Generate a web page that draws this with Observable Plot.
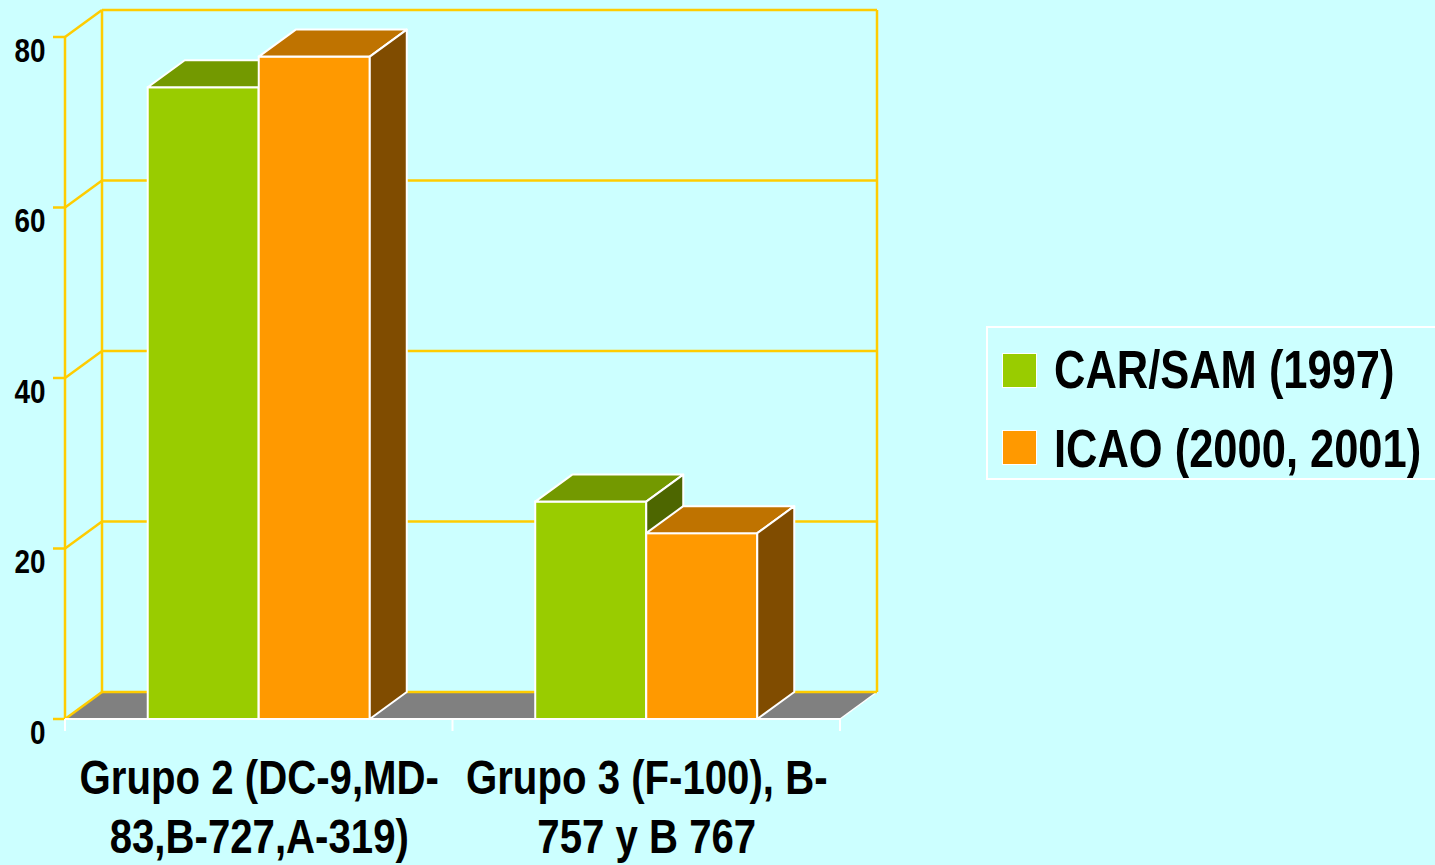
<!DOCTYPE html>
<html><head><meta charset="utf-8">
<script src="https://cdn.jsdelivr.net/npm/d3@7"></script>
<script src="https://cdn.jsdelivr.net/npm/@observablehq/plot@0.6"></script>
<style>
html,body{margin:0;padding:0;background:#CCFFFF;}
#wrap{position:relative;width:1435px;height:865px;overflow:hidden;background:#CCFFFF;}
#legend{position:absolute;left:986px;top:326px;width:470px;height:154px;border:2px solid #fff;box-sizing:border-box;}
.sw{position:absolute;width:33px;height:33px;border:1.5px solid #fff;box-sizing:content-box;}
.lt{position:absolute;font-family:"Liberation Sans Narrow","Arial Narrow","Liberation Sans",Arial,sans-serif;font-weight:bold;font-size:53px;line-height:1;color:#000;white-space:nowrap;transform:scaleX(0.82);transform-origin:0 0;}
</style></head>
<body><div id="wrap"></div>
<script>
const categories = ["Grupo 2 (DC-9,MD-\n83,B-727,A-319)", "Grupo 3 (F-100), B-\n757 y B 767"];
const seriesNames = ["CAR/SAM (1997)", "ICAO (2000, 2001)"];
const carSam = [74.1, 25.5];
const icao = [77.7, 21.8];
const yTicks = [0, 20, 40, 60, 80];

const FONT = '"Liberation Sans","Arial",sans-serif';
const NARROW = 0.82;
const FRONT = ["#99CC00", "#FF9900"];
const TOP = ["#739900", "#BF7300"];
const SIDE = ["#4D6600", "#804C00"];
const GRID = "#FFCC00";
const DX = 37, DY = -27;
const BAR_W = 0.2865;

const rows = categories.flatMap((c, i) => [
  {cat: c, i, s: 0, value: carSam[i]},
  {cat: c, i, s: 1, value: icao[i]}
]);
const bx1 = d => d.i + 0.5 - (d.s === 0 ? BAR_W : 0);
const bx2 = d => bx1(d) + BAR_W;

function floorMark(index, {x, y}) {
  const g = d3.create("svg:g");
  const x0 = x(0), x1 = x(categories.length), yb = y(0);
  g.append("path").attr("fill", "#808080")
    .attr("d", `M${x0},${yb}L${x1},${yb}L${x1 + DX},${yb + DY}L${x0 + DX},${yb + DY}Z`);
  g.append("line").attr("stroke", "#fff").attr("stroke-width", 1.5)
    .attr("x1", x1).attr("y1", yb).attr("x2", x1 + DX).attr("y2", yb + DY);
  return g.node();
}

function wallsMark(index, {x, y}) {
  const g = d3.create("svg:g").attr("fill", "none").attr("stroke", GRID).attr("stroke-width", 2.5);
  const x0 = x(0), x1 = x(categories.length);
  const yb = y(0), yt = y(yTicks[yTicks.length - 1]);
  for (const t of yTicks) {
    g.append("line").attr("x1", x0 + DX).attr("x2", x1 + DX).attr("y1", y(t) + DY).attr("y2", y(t) + DY);
    g.append("line").attr("x1", x0).attr("x2", x0 + DX).attr("y1", y(t)).attr("y2", y(t) + DY);
    g.append("line").attr("x1", x0 - 12).attr("x2", x0).attr("y1", y(t)).attr("y2", y(t));
  }
  g.append("line").attr("x1", x0 + DX).attr("x2", x0 + DX).attr("y1", yb + DY).attr("y2", yt + DY);
  g.append("line").attr("x1", x1 + DX).attr("x2", x1 + DX).attr("y1", yb + DY).attr("y2", yt + DY);
  g.append("line").attr("x1", x0).attr("x2", x0).attr("y1", yb).attr("y2", yt);
  return g.node();
}

function xAxisMark(index, {x, y}) {
  const g = d3.create("svg:g").attr("stroke", "#fff").attr("stroke-width", 2);
  const yb = y(0);
  g.append("line").attr("x1", x(0)).attr("x2", x(categories.length)).attr("y1", yb).attr("y2", yb);
  for (let i = 0; i <= categories.length; i++) {
    g.append("line").attr("x1", x(i)).attr("x2", x(i)).attr("y1", yb).attr("y2", yb + 12);
  }
  return g.node();
}

function facesMark(s) {
  return (index, {x, y}) => {
    const g = d3.create("svg:g").attr("stroke", "#fff").attr("stroke-width", 2).attr("stroke-linejoin", "round");
    for (const d of rows.filter(r => r.s === s)) {
      const xl = x(bx1(d)), xr = x(bx2(d)), yt = y(d.value), yb = y(0);
      g.append("path").attr("fill", TOP[s])
        .attr("d", `M${xl},${yt}L${xr},${yt}L${xr + DX},${yt + DY}L${xl + DX},${yt + DY}Z`);
      g.append("path").attr("fill", SIDE[s])
        .attr("d", `M${xr},${yt}L${xr},${yb}L${xr + DX},${yb + DY}L${xr + DX},${yt + DY}Z`);
    }
    return g.node();
  };
}

function frontMark(s) {
  return Plot.rect(rows.filter(r => r.s === s), {
    x1: bx1, x2: bx2, y1: 0, y2: "value",
    fill: FRONT[s], stroke: "#fff", strokeWidth: 2
  });
}

const chart = Plot.plot({
  width: 1435, height: 865,
  marginLeft: 65, marginRight: 595, marginTop: 37, marginBottom: 146,
  x: {domain: [0, categories.length], axis: null},
  y: {domain: [0, 80], axis: null},
  style: {background: "transparent", overflow: "visible"},
  marks: [
    floorMark,
    wallsMark,
    xAxisMark,
    frontMark(0), facesMark(0),
    frontMark(1), facesMark(1),
    Plot.text(yTicks, {
      x: 0, y: d => d, text: d => String(d), textAnchor: "end", lineAnchor: "bottom",
      dx: -20, dy: 24, fontSize: 34, fontWeight: "bold", fontFamily: FONT, fill: "#000"
    }),
    Plot.text(categories, {
      x: (d, i) => i + 0.5, y: 0, text: d => d, textAnchor: "middle", lineAnchor: "bottom",
      lineHeight: 1.2, dy: 133, fontSize: 49, fontWeight: "bold", fontFamily: FONT, fill: "#000"
    })
  ]
});
// condense the bold sans glyphs horizontally (narrow bold face of the original)
d3.select(chart).selectAll("text").each(function() {
  const t = this.getAttribute("transform") || "";
  this.setAttribute("transform", `${t} scale(${NARROW},1)`);
});
const wrap = document.getElementById("wrap");
wrap.appendChild(chart);

const legend = document.createElement("div");
legend.id = "legend";
wrap.appendChild(legend);
const swTops = [353, 430];
const txtTops = [343, 422];
seriesNames.forEach((name, s) => {
  const sw = document.createElement("div");
  sw.className = "sw";
  sw.style.left = (1002 - 986 - 2) + "px";
  sw.style.top = (swTops[s] - 326 - 2) + "px";
  sw.style.background = FRONT[s];
  legend.appendChild(sw);
  const t = document.createElement("div");
  t.className = "lt";
  t.style.left = (1054 - 986 - 2) + "px";
  t.style.top = (txtTops[s] - 326 - 2) + "px";
  t.textContent = name;
  legend.appendChild(t);
});
</script></body></html>
